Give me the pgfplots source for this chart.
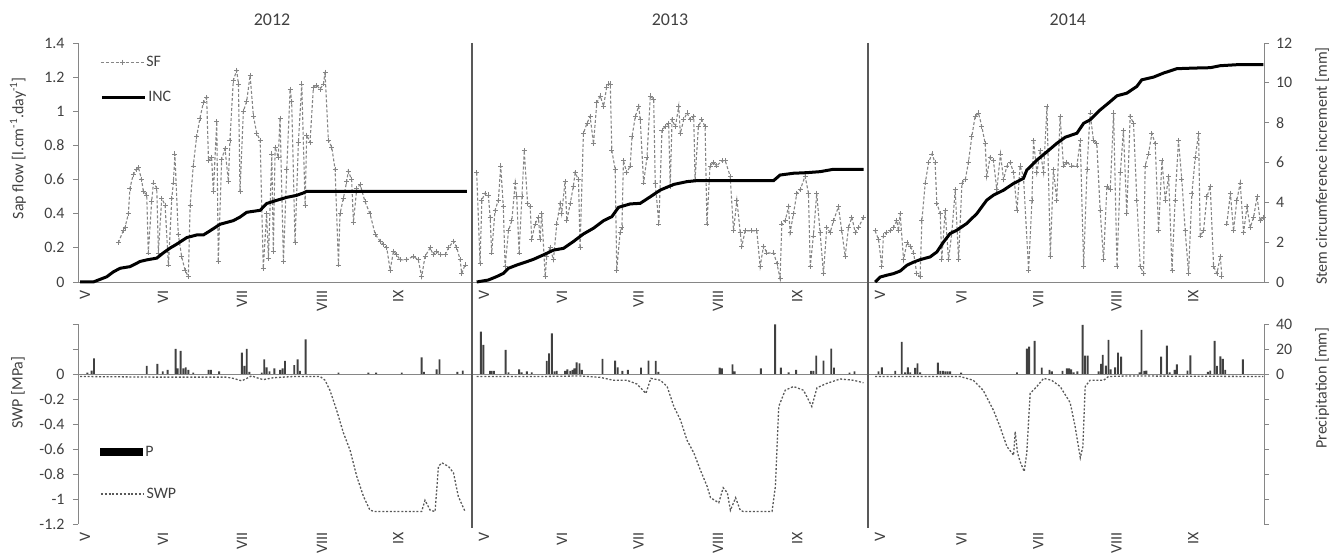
\documentclass[border=0pt]{standalone}
\usepackage{pgfplots}
\pgfplotsset{compat=1.18}
\usepackage{fontspec}
\setmainfont{Carlito}
\definecolor{axgray}{HTML}{868686}
\definecolor{txt}{HTML}{404040}
\definecolor{sfgray}{HTML}{858585}
\definecolor{sepgray}{HTML}{595959}
\newcommand\fs{\fontsize{16}{19}\selectfont}

\pgfplotsset{
  base/.style={
    width=1186bp, scale only axis, xmin=0, xmax=459, clip=false,
    axis line style={draw=axgray, line width=0.9bp},
    every tick/.style={draw=axgray, line width=0.9bp},
    major tick length=5bp, tick align=outside,
    tick label style={font=\fs, text=txt},
    label style={font=\fs, text=txt},
    /pgf/number format/assume math mode=true,
    legend style={draw=none, fill=none, inner sep=0pt, font=\fs, text=txt},
    unbounded coords=jump,
  },
  months/.style={
    xtick={0.8,31,61.5,92.5,122,155.2,185.4,215,245.8,276.4,308.5,340,369.7,400,429.7},
    xticklabels={V,VI,VII,VIII,IX,V,VI,VII,VIII,IX,V,VI,VII,VIII,IX},
    xticklabel style={rotate=90, anchor=east, yshift=-5bp},
    every x tick/.style={draw=none},
  },
  sf/.style={sfgray, line width=1.1bp, dash pattern=on 3bp off 2bp,
    mark=+, mark size=2.5bp, mark options={solid, line width=0.8bp}},
  inc/.style={black, line width=3bp},
  swp/.style={black!65, line width=1.3bp, dash pattern=on 2bp off 1.8bp},
}

\begin{document}
\begin{tikzpicture}
\useasboundingbox (0,0) rectangle (1339bp,557bp);

% ---------- top panel: sap flow (left) ----------
\begin{axis}[base, months, height=239bp, at={(78bp,275bp)}, anchor=south west,
  ymin=0, ymax=1.4,
  ytick={0,0.2,0.4,0.6,0.8,1,1.2,1.4},
  yticklabels={0,0.2,0.4,0.6,0.8,1,1.2,1.4},
  yticklabel style={xshift=-5bp},
  axis x line*=bottom, axis y line*=left,
  ylabel={Sap flow [l.cm\textsuperscript{-1}.day\textsuperscript{-1}]},
  ylabel style={at={(axis description cs:-0.0506,0.56)}, anchor=center},
  legend style={at={(axis description cs:0.0186,0.92)}, anchor=west},
  legend image code/.code={\draw[mark repeat=2, mark phase=2, #1]
    plot coordinates {(0bp,0bp) (21.5bp,0bp) (43bp,0bp)};},
]
\addplot[sf] table {
x y
15.6 0.23
17.5 0.30
18.2 0.32
19.5 0.40
20.1 0.55
21.4 0.63
22.7 0.66
23.4 0.67
24.6 0.60
25.3 0.53
26.6 0.51
27.2 0.17
28.5 0.47
29.2 0.58
30.5 0.55
31.1 0.17
32.4 0.49
33.7 0.45
35.0 0.10
36.3 0.49
36.9 0.58
37.5 0.75
38.8 0.28
40.1 0.15
41.4 0.07
42.7 0.03
43.4 0.45
44.6 0.68
45.9 0.85
47.2 0.96
48.5 1.05
49.8 1.08
50.5 0.71
51.7 0.73
52.4 0.53
53.7 0.94
54.3 0.12
55.6 0.72
56.9 0.78
58.2 0.59
58.8 0.83
60.1 1.18
61.4 1.24
62.1 1.16
62.7 0.53
64.0 1.00
65.3 1.06
66.6 1.21
67.9 0.97
69.2 0.87
70.5 0.83
71.7 0.08
73.0 0.40
73.7 0.14
75.0 0.75
75.6 0.18
76.3 0.79
77.5 0.73
78.2 0.96
79.5 0.12
80.8 0.66
82.1 1.13
82.7 1.06
84.0 0.23
85.3 0.82
86.6 1.16
87.9 0.45
88.5 0.86
89.8 0.82
91.1 1.14
92.4 1.15
93.7 1.13
95.0 1.16
95.6 1.23
96.9 0.83
98.2 0.79
99.5 0.66
100.8 0.10
101.4 0.40
102.7 0.49
104.0 0.59
104.6 0.65
105.9 0.60
106.6 0.35
107.9 0.55
109.2 0.57
111.1 0.47
113.0 0.40
115.0 0.28
116.9 0.24
118.2 0.22
119.5 0.20
120.8 0.07
122.1 0.18
123.4 0.16
124.6 0.13
127.2 0.13
129.8 0.15
131.7 0.13
133.0 0.03
134.3 0.15
136.3 0.20
137.5 0.16
138.8 0.18
140.1 0.16
142.1 0.16
143.4 0.20
145.3 0.24
146.6 0.20
147.9 0.13
148.5 0.05
149.8 0.10
};
\addlegendentry{SF}
\addplot[sf, forget plot] table {
x y
154.3 0.64
155.6 0.11
156.3 0.48
157.5 0.52
158.8 0.51
159.5 0.38
160.1 0.17
161.4 0.42
162.7 0.48
163.6 0.68
164.6 0.44
165.3 0.09
166.6 0.30
167.9 0.36
169.2 0.58
169.8 0.50
170.7 0.17
171.8 0.50
172.7 0.77
174.0 0.46
175.0 0.44
175.6 0.25
176.9 0.34
178.2 0.38
178.8 0.25
179.5 0.40
180.8 0.03
181.4 0.15
182.7 0.20
184.0 0.13
185.3 0.34
186.6 0.46
187.2 0.40
188.5 0.59
189.2 0.36
190.5 0.46
191.7 0.56
192.4 0.64
193.7 0.60
194.3 0.20
195.6 0.87
197.0 0.93
198.2 0.97
199.5 0.81
200.8 1.05
202.1 1.09
203.4 1.03
204.6 1.14
205.3 1.16
206.0 1.16
206.6 0.77
207.9 0.66
208.5 0.07
209.8 0.29
210.5 0.32
211.1 0.71
212.4 0.64
213.7 0.68
214.4 0.85
215.7 0.97
217.0 1.03
217.6 0.95
218.9 0.58
220.2 0.73
221.5 1.09
222.8 1.07
223.4 0.58
224.8 0.34
226.0 0.89
227.3 0.91
228.6 0.93
229.2 0.56
229.9 0.95
231.2 0.91
232.5 1.03
233.1 0.87
234.4 0.95
235.7 0.99
237.0 0.95
238.3 0.97
238.8 0.60
240.1 0.91
241.4 0.95
242.7 0.91
243.4 0.34
244.6 0.68
245.9 0.70
247.2 0.68
249.2 0.71
250.5 0.71
252.4 0.62
253.7 0.30
255.0 0.48
256.3 0.29
256.9 0.21
258.2 0.30
260.8 0.30
262.7 0.30
264.0 0.09
265.3 0.21
266.6 0.17
269.2 0.17
270.5 0.11
271.7 0.02
272.4 0.34
273.7 0.36
275.0 0.44
275.6 0.29
276.9 0.40
278.2 0.52
279.5 0.54
281.4 0.62
282.7 0.52
283.4 0.09
284.6 0.27
285.9 0.52
287.2 0.29
288.5 0.05
289.8 0.32
291.1 0.29
292.4 0.36
294.3 0.44
295.6 0.30
296.9 0.15
298.2 0.32
299.5 0.38
300.8 0.29
302.1 0.32
304.0 0.38
};
\addplot[sf, forget plot] table {
x y
308.5 0.30
309.8 0.25
311.1 0.09
311.7 0.27
313.0 0.29
314.3 0.30
315.6 0.32
316.9 0.36
317.5 0.30
318.2 0.40
319.5 0.13
320.8 0.23
322.1 0.21
323.4 0.17
324.6 0.05
325.9 0.03
326.6 0.36
327.9 0.58
329.2 0.70
330.5 0.75
331.7 0.70
332.4 0.46
333.7 0.40
334.3 0.13
335.6 0.42
336.9 0.13
338.2 0.29
339.5 0.54
340.8 0.13
342.1 0.58
343.4 0.60
344.6 0.70
345.9 0.85
347.2 0.97
348.5 0.99
349.8 0.91
351.1 0.81
351.7 0.62
353.0 0.73
354.3 0.71
355.6 0.54
357.0 0.75
358.2 0.60
359.5 0.68
360.8 0.70
362.1 0.64
363.4 0.42
364.6 0.68
365.9 0.62
367.9 0.07
369.2 0.48
369.8 0.83
371.1 0.64
372.4 0.77
373.7 0.64
375.0 1.03
376.3 0.15
377.5 0.66
378.8 0.48
380.1 0.97
381.4 0.68
382.7 0.70
384.6 0.68
386.6 0.68
387.9 0.83
389.2 0.09
390.5 0.66
391.7 0.99
393.0 0.83
394.3 0.81
395.6 0.42
396.9 0.13
398.2 0.56
399.5 0.54
400.8 0.99
402.1 0.09
403.4 0.64
404.6 0.89
405.9 0.40
407.2 0.97
408.5 0.93
409.8 0.48
411.1 0.09
412.4 0.05
413.0 0.68
414.3 0.75
415.6 0.87
416.9 0.81
418.2 0.30
419.5 0.71
420.8 0.48
422.1 0.62
423.4 0.07
424.6 0.48
425.9 0.83
427.2 0.60
428.5 0.30
429.8 0.05
431.1 0.52
432.4 0.73
433.7 0.87
434.3 0.27
435.6 0.30
436.9 0.50
438.2 0.56
439.5 0.09
440.8 0.05
442.1 0.15
442.7 0.03
443.6 nan
444.6 0.34
446.0 0.52
447.2 0.30
448.5 0.48
449.8 0.58
451.1 0.29
452.4 0.44
453.7 0.32
455.0 0.38
456.3 0.50
457.5 0.36
458.8 0.38
};
\coordinate (t1) at (axis cs:152.5,1.4);
\coordinate (t2) at (axis cs:305.7,1.4);
\node[font=\fontsize{18}{21}\selectfont, text=txt] at (axis cs:75.1,1.535) {2012};
\node[font=\fontsize{18}{21}\selectfont, text=txt] at (axis cs:229.1,1.535) {2013};
\node[font=\fontsize{18}{21}\selectfont, text=txt] at (axis cs:383.1,1.535) {2014};
\end{axis}

% ---------- top panel: stem increment (right) ----------
\begin{axis}[base, height=239bp, at={(78bp,275bp)}, anchor=south west,
  ymin=0, ymax=12, ytick={0,2,4,6,8,10,12},
  yticklabels={0,2,4,6,8,10,12},
  yticklabel style={xshift=3.5bp},
  axis x line=none, xtick=\empty, axis y line*=right,
  ylabel={Stem circumference increment [mm]},
  ylabel style={at={(axis description cs:1.049,0.485)}, anchor=center, rotate=0},
  legend style={at={(axis description cs:0.0186,0.774)}, anchor=west},
  legend image code/.code={\draw[#1] (0bp,0bp) -- (43bp,0bp);},
]
\addplot[inc] table {
x y
0.8 0
5.9 0
11.1 0.26
13.7 0.51
16.3 0.69
20.1 0.77
22.7 0.94
24.0 1.03
26.6 1.11
30.5 1.20
33.0 1.46
35.6 1.70
38.2 1.90
42.1 2.23
45.9 2.36
48.5 2.36
51.1 2.57
55.0 2.90
60.1 3.08
62.7 3.26
65.3 3.50
70.5 3.60
73.0 3.94
76.9 4.10
80.8 4.25
84.6 4.35
87.2 4.47
88.5 4.55
150.5 4.55
};
\addlegendentry{INC}
\addplot[inc, forget plot] table {
x y
154.3 0
158.8 0.10
162.0 0.27
164.6 0.43
166.6 0.69
169.8 0.85
173.7 1.02
176.3 1.14
180.1 1.36
184.0 1.60
187.9 1.69
191.7 2.03
195.6 2.41
199.5 2.70
203.4 3.08
206.6 3.28
209.2 3.75
213.7 3.92
217.6 3.95
221.5 4.28
225.4 4.62
230.6 4.90
235.7 5.04
239.6 5.09
269.2 5.09
271.7 5.37
276.9 5.46
282.1 5.49
287.2 5.54
292.4 5.66
304.0 5.66
};
\addplot[inc, forget plot] table {
x y
308.5 0
310.5 0.25
313.0 0.34
315.6 0.42
318.2 0.55
320.8 0.84
323.4 1.00
325.9 1.12
329.8 1.26
332.4 1.51
335.0 2.01
337.5 2.43
340.1 2.60
344.0 2.94
347.9 3.44
351.7 4.11
354.3 4.36
358.2 4.61
362.1 4.95
365.9 5.20
367.2 5.62
371.1 6.12
375.0 6.54
378.8 6.96
382.1 7.27
386.6 7.47
389.2 7.97
391.7 8.14
395.6 8.64
399.5 9.06
402.1 9.35
405.9 9.48
409.8 9.82
411.7 10.15
416.3 10.29
420.1 10.49
425.3 10.71
431.7 10.74
438.2 10.76
442.1 10.86
448.5 10.91
458.8 10.91
};
\end{axis}

% ---------- bottom panel: SWP (left) ----------
\begin{axis}[base, months, height=200bp, at={(78bp,33bp)}, anchor=south west,
  ymin=-1.2, ymax=0.4,
  ytick={-1.2,-1,-0.8,-0.6,-0.4,-0.2,0,0.2,0.4},
  yticklabels={-1.2,-1,-0.8,-0.6,-0.4,-0.2,0,,},
  yticklabel style={xshift=-5bp},
  axis x line*=bottom, axis y line*=left,
  x axis line style={draw=none},
  ylabel={SWP [MPa]},
  ylabel style={at={(axis description cs:-0.0506,0.657)}, anchor=center},
  legend style={at={(axis description cs:0.0186,0.15)}, anchor=west},
  legend image code/.code={\draw[#1] (0bp,0bp) -- (43bp,0bp);},
]
\draw[axgray, line width=0.9bp] (axis cs:0,0) -- (axis cs:459,0);
\addplot[swp] table {
x y
0.8 -0.02
30.0 -0.025
57.5 -0.025
60.1 -0.035
63.4 -0.055
65.3 -0.035
67.2 -0.015
69.2 -0.03
71.7 -0.045
75.6 -0.03
83.4 -0.02
93.7 -0.02
95.6 -0.05
97.5 -0.13
100.1 -0.29
102.7 -0.47
105.3 -0.61
107.9 -0.82
110.5 -0.98
113.0 -1.09
115.0 -1.10
133.0 -1.10
134.3 -1.01
136.3 -1.09
138.2 -1.10
139.5 -0.74
140.8 -0.71
143.4 -0.74
145.3 -0.79
147.2 -0.98
149.8 -1.10
};
\addlegendentry{SWP}
\addplot[swp, forget plot] table {
x y
154.3 -0.02
178.8 -0.02
194.3 -0.016
202.1 -0.027
207.2 -0.05
212.4 -0.05
216.3 -0.08
219.8 -0.155
221.7 -0.035
225.4 -0.05
228.0 -0.10
230.6 -0.26
233.2 -0.37
235.7 -0.53
238.3 -0.63
240.9 -0.77
243.5 -0.90
244.8 -0.99
248.0 -1.03
249.7 -0.91
251.3 -0.95
252.5 -1.09
254.5 -0.99
256.3 -1.09
257.5 -1.10
268.6 -1.10
269.9 -0.90
271.2 -0.26
273.7 -0.13
276.9 -0.10
280.8 -0.13
284.0 -0.26
286.0 -0.11
289.8 -0.075
295.0 -0.04
300.1 -0.05
304.0 -0.07
};
\addplot[swp, forget plot] table {
x y
308.5 -0.02
328.5 -0.02
341.4 -0.02
346.5 -0.05
350.3 -0.13
354.3 -0.29
356.8 -0.42
359.5 -0.58
362.1 -0.65
362.7 -0.46
363.6 -0.63
364.6 -0.70
366.2 -0.78
367.2 -0.63
368.5 -0.155
371.1 -0.10
373.7 -0.035
376.8 -0.05
380.1 -0.10
384.0 -0.23
385.9 -0.42
387.9 -0.67
388.9 -0.58
389.8 -0.10
391.7 -0.05
396.9 -0.05
398.8 -0.02
405.9 -0.016
458.8 -0.02
};
\coordinate (b1) at (axis cs:152.5,-1.2);
\coordinate (b2) at (axis cs:305.7,-1.2);
\end{axis}

% ---------- bottom panel: precipitation (right) ----------
\begin{axis}[base, height=200bp, at={(78bp,33bp)}, anchor=south west,
  ymin=-120, ymax=40,
  ytick={-120,-100,-80,-60,-40,-20,0,20,40},
  yticklabels={,,,,,,0,20,40},
  yticklabel style={xshift=3.5bp},
  axis x line=none, xtick=\empty, axis y line*=right,
  ylabel={Precipitation [mm]},
  ylabel style={at={(axis description cs:1.049,0.68)}, anchor=center, rotate=0},
  legend style={at={(axis description cs:0.0186,0.36)}, anchor=west},
  legend image code/.code={\fill[black] (0bp,-4bp) rectangle (43bp,4bp);},
]
\addplot[ybar, bar width=1.9bp, fill=black!75, draw=none] table {
x y
3.6 1.0
5.3 2.7
6.2 12.5
26.6 6.4
30.7 8.0
32.8 2.0
34.7 3.2
37.8 20.0
38.6 4.5
39.7 18.4
40.8 4.5
41.7 5.3
42.7 3.2
44.6 1.0
50.5 3.2
51.4 3.2
54.6 2.0
63.4 17.0
64.4 6.4
65.3 20.0
66.3 1.6
71.1 1.0
72.1 11.7
73.0 5.3
74.1 2.0
76.0 4.5
78.2 3.2
79.2 4.5
80.1 10.4
83.7 7.0
85.0 11.7
85.9 2.4
88.1 27.7
100.8 1.0
112.4 1.0
115.4 1.0
125.3 1.0
133.0 13.3
133.9 1.6
138.8 3.7
139.9 11.7
146.8 1.6
148.9 2.7
155.9 33.9
156.9 23.2
159.5 2.4
160.1 2.4
161.0 2.4
165.5 19.2
166.6 1.3
170.7 3.7
171.7 1.3
173.7 2.0
175.6 1.3
181.4 10.4
182.3 16.5
183.4 32.5
184.4 2.0
185.3 2.4
188.5 2.4
189.4 3.7
190.5 2.4
191.4 3.2
192.1 4.5
193.0 9.3
194.1 8.5
195.0 3.2
203.0 12.0
207.9 10.7
208.9 5.3
210.7 2.4
212.8 3.2
217.9 5.0
220.8 10.7
223.6 10.4
224.6 1.6
248.3 5.0
249.2 4.5
253.3 7.7
254.1 2.0
264.3 4.5
269.8 39.7
272.0 5.0
275.0 1.3
277.9 3.2
283.7 2.4
284.6 2.4
285.7 14.7
288.5 10.7
291.5 20.3
292.6 5.0
298.6 1.0
300.5 2.0
309.8 2.0
311.1 5.3
316.3 2.4
318.8 25.6
320.1 1.3
321.2 5.3
322.1 1.3
324.0 4.8
324.9 8.5
325.9 1.3
332.8 9.1
333.7 2.4
334.7 2.4
335.7 2.0
336.6 2.0
337.5 2.0
341.8 1.0
363.4 1.3
367.2 20.3
368.1 21.9
370.2 26.4
373.0 5.0
376.0 3.2
376.9 2.0
381.0 2.4
382.7 4.5
383.6 4.5
384.4 3.7
385.3 1.3
386.8 2.0
388.8 39.2
389.8 14.7
390.8 14.7
395.0 2.0
395.9 8.0
396.6 15.2
397.8 6.7
398.8 27.2
399.7 3.7
401.4 5.3
402.5 17.0
403.7 13.9
410.8 1.3
411.6 35.2
412.7 2.4
413.5 2.7
419.2 13.9
421.4 22.7
422.5 1.3
424.4 3.2
425.3 7.7
429.4 2.7
430.5 14.9
437.3 1.6
438.2 2.7
439.9 26.4
440.8 6.4
442.1 14.1
443.1 12.0
444.0 3.2
450.8 11.7
};
\addlegendentry{P}
\end{axis}

% year separators
\draw[sepgray, line width=1.3bp] (t1) -- ([yshift=-4bp]b1);
\draw[sepgray, line width=1.3bp] (t2) -- ([yshift=-4bp]b2);
\end{tikzpicture}
\end{document}
